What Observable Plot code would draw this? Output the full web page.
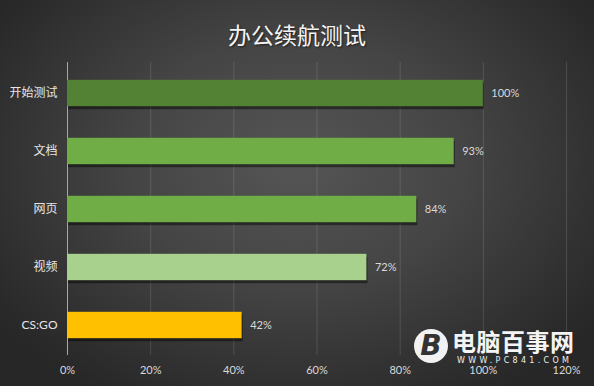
<!DOCTYPE html>
<html>
<head>
<meta charset="utf-8">
<script src="https://cdn.jsdelivr.net/npm/d3@7"></script>
<script src="https://cdn.jsdelivr.net/npm/@observablehq/plot@0.6"></script>
<style>
  html, body { margin: 0; padding: 0; background: #2a2a2a; }
  #wrap {
    position: relative; width: 594px; height: 386px; overflow: hidden;
    background: radial-gradient(ellipse 62% 70% at 50% 42%, #555555 0%, #454545 45%, #2f2f2f 85%, #272727 100%);
    font-family: Lato, "Noto Sans CJK SC", sans-serif;
  }
  #title {
    position: absolute; top: 19px; left: 0; width: 594px; text-align: center;
    font-family: "Noto Sans CJK SC", sans-serif; font-size: 23px; color: #f4f4f4;
    line-height: 30px; text-shadow: 1px 1px 2px rgba(0,0,0,0.6);
  }
  #chart { position: absolute; left: 0; top: 0; }
  #wm-icon {
    position: absolute; left: 414px; top: 329px; width: 34px; height: 34px; border-radius: 50%;
    background: #f2f2f2; color: #333; font: italic bold 28px "DejaVu Sans", sans-serif;
    text-align: center; line-height: 34px;
  }
  #wm-text {
    position: absolute; left: 452px; top: 329px; font-family: "Noto Sans CJK SC", sans-serif;
    font-weight: bold; font-size: 24px; line-height: 24px; height: 24px; color: #f4f4f4; letter-spacing: 0.5px;
  }
  #wm-url {
    position: absolute; left: 457px; top: 356px; font-family: "DejaVu Sans", sans-serif;
    font-size: 8px; line-height: 9px; color: #eeeeee; letter-spacing: 3.3px;
  }
</style>
</head>
<body>
<div id="wrap">
  <div id="chart"></div>
  <div id="title">办公续航测试</div>
  <div id="wm-icon">B</div>
  <div id="wm-text">电脑百事网</div>
  <div id="wm-url">WWW.PC841.COM</div>
</div>
<script>
const categories = ["开始测试", "文档", "网页", "视频", "CS:GO"];
const values = [100, 93, 84, 72, 42];
const barColors = ["#548235", "#70AD47", "#70AD47", "#A9D18E", "#FFC000"];
const xTicks = [0, 20, 40, 60, 80, 100, 120];
const gridTicks = [20, 40, 60, 80, 100, 120];

const data = categories.map((c, i) => ({ category: c, value: values[i], color: barColors[i] }));

const inset = 15.8;

const chart = Plot.plot({
  width: 594,
  height: 386,
  marginTop: 62,
  marginBottom: 31,
  marginLeft: 67,
  marginRight: 28,
  style: { background: "transparent", fontFamily: "Lato, 'Noto Sans CJK SC', sans-serif", color: "#e0e0e0" },
  x: { domain: [0, 120] },
  y: { domain: categories, padding: 0 },
  marks: [
    Plot.ruleX(gridTicks, { stroke: "#ffffff", strokeOpacity: 0.13 }),
    Plot.ruleX([0], { stroke: "#a8a8a8" }),
    Plot.barX(data, { x: "value", y: "category", fill: "#000", fillOpacity: 0.45, insetTop: inset, insetBottom: inset, dx: 1, dy: 3 }),
    Plot.barX(data, { x: "value", y: "category", fill: "color", insetTop: inset, insetBottom: inset }),
    Plot.text(data, { x: "value", y: "category", text: d => d.value + "%", dx: 8, textAnchor: "start", fill: "#d9d9d9", fontSize: 11 }),
    Plot.axisY({ tickSize: 0, tickPadding: 10, fontSize: 12, label: null, color: "#e6e6e6" }),
    Plot.axisX({ ticks: xTicks, tickSize: 0, tickPadding: 11, fontSize: 11, label: null, tickFormat: d => d + "%", color: "#d9d9d9" })
  ]
});
document.getElementById("chart").appendChild(chart);
</script>
</body>
</html>
